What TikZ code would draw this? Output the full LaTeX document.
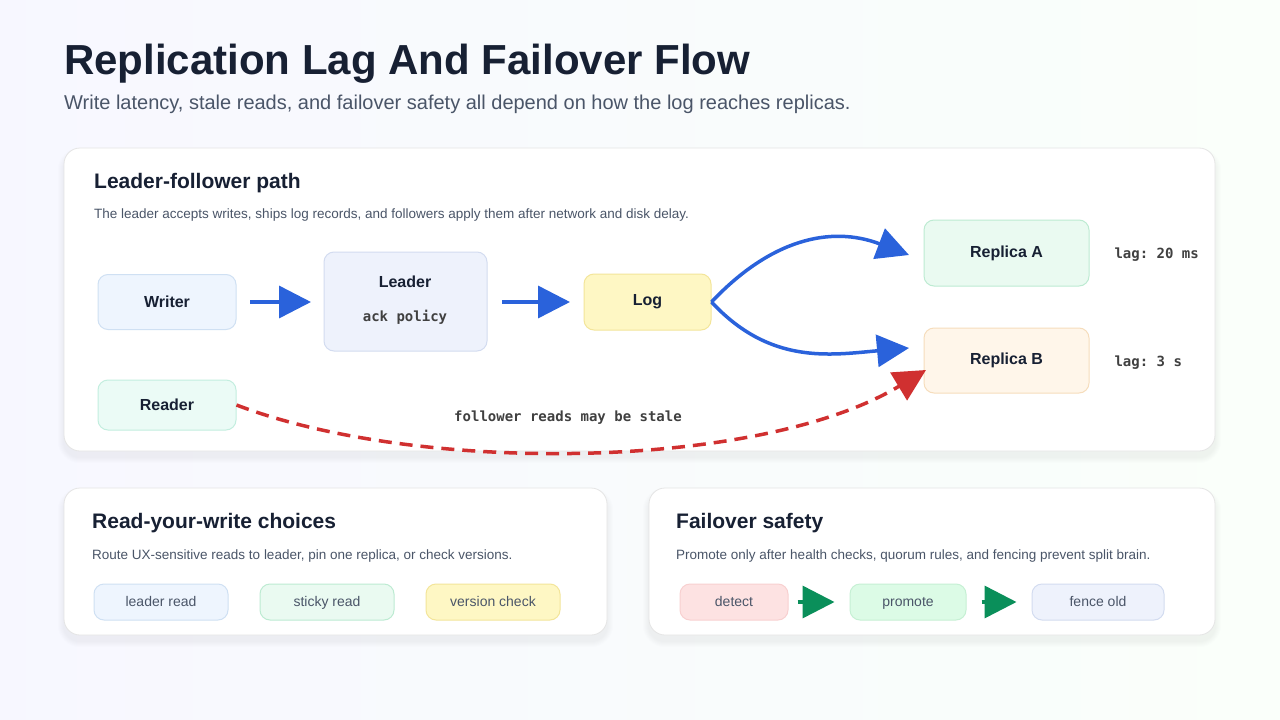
\documentclass[tikz,border=0pt]{standalone}
\usepackage{fontspec}
\setmainfont{Liberation Sans}
\setmonofont{DejaVu Sans Mono}
\usetikzlibrary{arrows.meta}
\definecolor{ink}{HTML}{172033}
\definecolor{sub}{HTML}{4A5568}
\definecolor{ablue}{HTML}{2A62DB}
\definecolor{ared}{HTML}{D03030}
\definecolor{agreen}{HTML}{0A8F5A}
\definecolor{bfill}{HTML}{EEF5FE}\definecolor{bdraw}{HTML}{CFE0F3}
\definecolor{lfill}{HTML}{EEF2FC}\definecolor{ldraw}{HTML}{D3DCF0}
\definecolor{yfill}{HTML}{FEF7C4}\definecolor{ydraw}{HTML}{F3E59A}
\definecolor{gfill}{HTML}{EAFAF1}\definecolor{gdraw}{HTML}{BDEBD2}
\definecolor{ofill}{HTML}{FFF6EA}\definecolor{odraw}{HTML}{F6DDBC}
\definecolor{tfill}{HTML}{EBFBF6}\definecolor{tdraw}{HTML}{C3EEDF}
\definecolor{rfill}{HTML}{FDE2E2}\definecolor{rdraw}{HTML}{F8D0D0}
\definecolor{pgfill}{HTML}{DCFBE6}\definecolor{pgdraw}{HTML}{C6F0D4}
\definecolor{shd}{HTML}{5A6A85}
\newcommand\softcard[4]{%
 \foreach \k in {1,...,6}{\fill[shd,opacity=0.012,rounded corners=16pt+\k pt] (#1-\k,#2-\k+6) rectangle (#3+\k,#4+\k+6);}
 \draw[draw=black!10,fill=white,rounded corners=16pt,line width=0.8pt] (#1,#2) rectangle (#3,#4);}
\begin{document}
\begin{tikzpicture}[x=1pt,y=-1pt,
 box/.style={rounded corners=10pt,line width=1pt,font=\fontsize{16}{18}\selectfont\bfseries,text=ink,inner sep=0pt},
 pill/.style={rounded corners=10pt,line width=1pt,font=\fontsize{14}{16}\selectfont,text=sub,inner sep=0pt,text height=10pt,text depth=2pt},
 blu/.style={ablue,line width=3.5pt,-{Triangle[length=32pt,width=32pt]}},
 grn/.style={agreen,line width=3.5pt,-{Triangle[length=32pt,width=32pt]}},
 mono/.style={font=\ttfamily\bfseries\fontsize{14}{16}\selectfont,text=black!75},
 ctitle/.style={anchor=west,font=\fontsize{21}{24}\selectfont\bfseries,text=ink,inner sep=0pt},
 cdesc/.style={anchor=west,font=\fontsize{13.5}{16}\selectfont,text=sub,inner sep=0pt}]
\shade[left color=blue!3!white,right color=green!2!white] (0,0) rectangle (1280,720);
\useasboundingbox (0,0) rectangle (1280,720);
\node[anchor=base west,font=\fontsize{42}{46}\selectfont\bfseries,text=ink,inner sep=0pt] (title) at (64,74) {Replication Lag And Failover Flow};
\node[anchor=base west,font=\fontsize{20}{22}\selectfont,text=sub,inner sep=0pt] (subt) at (64,109) {Write latency, stale reads, and failover safety all depend on how the log reaches replicas.};
% cards
\softcard{64}{148}{1215}{451}
\softcard{64}{488}{607}{635}
\softcard{649}{488}{1215}{635}
% card1
\node[ctitle] (t1) at (94,183) {Leader-follower path};
\node[cdesc] (d1) at (94,215) {The leader accepts writes, ships log records, and followers apply them after network and disk delay.};
\node[box,draw=bdraw,fill=bfill,minimum width=138pt,minimum height=55pt] (writer) at (167,302) {Writer};
\node[box,draw=ldraw,fill=lfill,minimum width=163pt,minimum height=99pt] (leader) at (405.5,301.5) {};
\node[font=\fontsize{16}{18}\selectfont\bfseries,text=ink] (ltxt) at (405,282) {Leader};
\node[mono] (ack) at (405,317) {ack policy};
\node[box,draw=ydraw,fill=yfill,minimum width=127pt,minimum height=56pt] (log) at (647.5,302) {Log};
\node[box,draw=gdraw,fill=gfill,minimum width=165pt,minimum height=66pt] (ra) at (1006.5,253) {Replica A};
\node[box,draw=odraw,fill=ofill,minimum width=165pt,minimum height=65pt] (rb) at (1006.5,360.5) {Replica B};
\node[box,draw=tdraw,fill=tfill,minimum width=138pt,minimum height=50pt] (reader) at (167,405) {Reader};
\node[mono,anchor=west] (laga) at (1111,255) {lag: 20 ms};
\node[mono,anchor=west] (lagb) at (1111,363) {lag: 3 s};
\coordinate (w1) at (250,302); \coordinate (l0) at (311,302);
\coordinate (l1) at (502,302); \coordinate (g0) at (570,302);
\draw[blu] (w1) -- (l0);
\draw[blu] (l1) -- (g0);
\coordinate (ea) at (909,255); \coordinate (eb) at (909,348);
\draw[blu] (log.east) .. controls (770,240) and (830,225) .. (ea);
\draw[blu] (log.east) .. controls (770,365) and (830,355) .. (eb);
\coordinate (er) at (926,370);
\draw[ared,line width=3.5pt,dash pattern=on 13pt off 8pt,-{Triangle[length=32pt,width=32pt]}] (reader.east) .. controls (420,475) and (760,470) .. (er);
\node[mono] (stale) at (568,418) {follower reads may be stale};
% card2
\node[ctitle] (t2) at (92,523) {Read-your-write choices};
\node[cdesc] (d2) at (92,556) {Route UX-sensitive reads to leader, pin one replica, or check versions.};
\node[pill,draw=bdraw,fill=bfill,minimum width=134pt,minimum height=36pt] (p1) at (161,602) {leader read};
\node[pill,draw=gdraw,fill=gfill,minimum width=134pt,minimum height=36pt] (p2) at (327,602) {sticky read};
\node[pill,draw=ydraw,fill=yfill,minimum width=134pt,minimum height=36pt] (p3) at (493,602) {version check};
% card3
\node[ctitle] (t3) at (676,523) {Failover safety};
\node[cdesc] (d3) at (676,556) {Promote only after health checks, quorum rules, and fencing prevent split brain.};
\node[pill,draw=rdraw,fill=rfill,minimum width=108pt,minimum height=36pt] (f1) at (734,602) {detect};
\node[pill,draw=pgdraw,fill=pgfill,minimum width=116pt,minimum height=36pt] (f2) at (908,602) {promote};
\node[pill,draw=ldraw,fill=lfill,minimum width=132pt,minimum height=36pt] (f3) at (1098,602) {fence old};
\draw[grn] ([xshift=9pt]f1.east) -- ([xshift=-15pt]f2.west);
\draw[grn] ([xshift=15pt]f2.east) -- ([xshift=-15pt]f3.west);
\end{tikzpicture}
\end{document}
